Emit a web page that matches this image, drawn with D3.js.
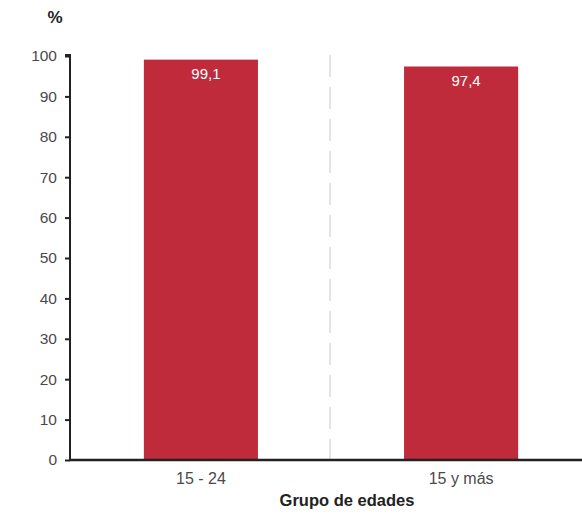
<!DOCTYPE html>
<html><head><meta charset="utf-8">
<script src="https://cdn.jsdelivr.net/npm/d3@7"></script>
<style>body{margin:0;background:#fff}svg{display:block}</style>
</head><body>
<svg id="c" width="582" height="514"></svg>
<script>
const categories = ["15 - 24", "15 y más"];
const values = [99.1, 97.4];
const valueLabels = ["99,1", "97,4"];
const yTicks = [0,10,20,30,40,50,60,70,80,90,100];

(function(){
const svg = d3.select("#c");
const mLeft = 70, mRight = 582, mTop = 56, mBottom = 460;
const y = d3.scaleLinear().domain([0,100]).range([mBottom, mTop]);
const x = d3.scaleBand().domain(categories).range([71, 591]).paddingInner(0.5615).paddingOuter(0.28);
const font = "Liberation Sans, Arial, sans-serif";

// separator dashed line
svg.append("line").attr("x1", 330).attr("x2", 330).attr("y1", 55).attr("y2", mBottom)
  .attr("stroke", "#dcdcdc").attr("stroke-width", 1.5).attr("stroke-dasharray", "22,10");

svg.selectAll("rect.bar").data(values).enter().append("rect")
  .attr("x", (d,i)=>x(categories[i])).attr("width", x.bandwidth())
  .attr("y", d=>y(d)).attr("height", d=>mBottom - y(d)).attr("fill", "#bf2b3a");

svg.selectAll("text.val").data(values).enter().append("text")
  .attr("x", (d,i)=>x(categories[i]) + x.bandwidth()/2 + 5).attr("y", d=>y(d) + 19)
  .attr("text-anchor","middle").attr("fill","#fff").attr("font-family",font).attr("font-size",15)
  .text((d,i)=>valueLabels[i]);

// y axis
const ya = svg.append("g").attr("transform", `translate(${mLeft},0)`)
  .call(d3.axisLeft(y).tickValues(yTicks).tickSize(5).tickPadding(8).tickFormat(d3.format("d")));
ya.select(".domain").attr("stroke","#222").attr("stroke-width",2).attr("d", `M-5,${mTop-1}H0V${mBottom}`);
ya.selectAll(".tick line").attr("stroke","#222").attr("stroke-width",2);
ya.selectAll(".tick text").attr("font-family",font).attr("font-size",15.5).attr("fill","#4a4a4a");

// x axis
const xa = svg.append("g").attr("transform", `translate(0,${mBottom})`)
  .call(d3.axisBottom(x).tickSize(0).tickPadding(13));
xa.select(".domain").attr("stroke","#222").attr("stroke-width",2.5).attr("d", `M${mLeft-1},0H${mRight}`);
xa.selectAll(".tick text").attr("font-family",font).attr("font-size",16).attr("fill","#4a4a4a");

svg.append("text").attr("x", 55).attr("y", 23).attr("text-anchor","middle")
  .attr("font-family",font).attr("font-size",17).attr("font-weight","bold").attr("fill","#222").text("%");
svg.append("text").attr("x", 347).attr("y", 506).attr("text-anchor","middle")
  .attr("font-family",font).attr("font-size",16.5).attr("font-weight","bold").attr("fill","#222").text("Grupo de edades");
})();
</script>
</body></html>
